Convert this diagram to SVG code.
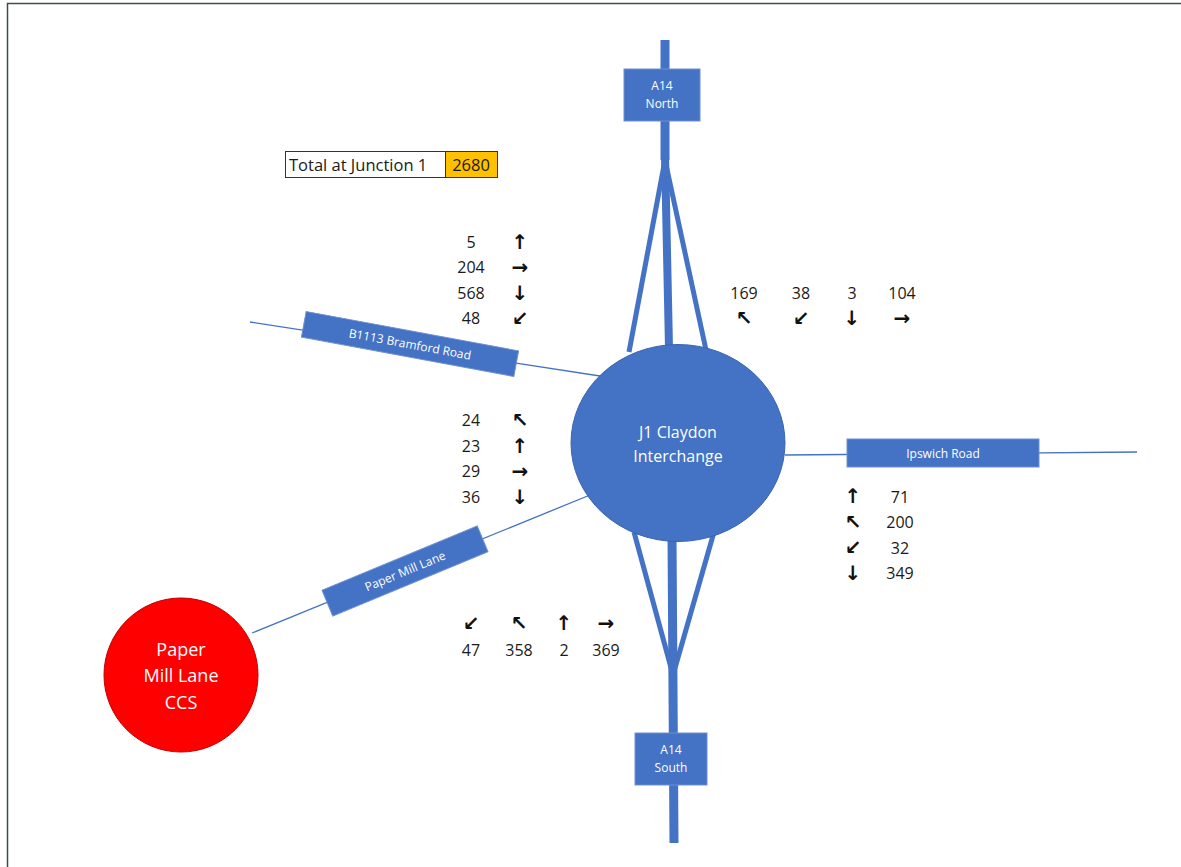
<svg xmlns="http://www.w3.org/2000/svg" width="1181" height="867" viewBox="0 0 1181 867">
<style>
.t{font-family:"Open Sans","Liberation Sans",sans-serif;font-size:16px;fill:#1a1a1a;text-anchor:middle}
.ts{font-family:"Open Sans","Liberation Sans",sans-serif;font-size:16.5px;fill:#1a1a1a}
.a{font-family:"DejaVu Sans",sans-serif;font-size:20px;fill:#111;text-anchor:middle;font-weight:bold}
.w{font-family:"Open Sans","Liberation Sans",sans-serif;fill:#fff;text-anchor:middle}
.box{fill:#4472C4;stroke:#6f8fd0;stroke-width:1}
.thick{stroke:#4472C4;fill:none;stroke-linecap:butt}
.thin{stroke:#4472C4;stroke-width:1.3;fill:none}
</style>
<rect width="1181" height="867" fill="#fff"/>
<path d="M7.5 867 V3.5 H1181" fill="none" stroke="#3c5042" stroke-width="1.5"/>
<g id="connectors">
<line class="thick" x1="665" y1="40" x2="665" y2="160" stroke-width="9"/>
<line class="thick" x1="665" y1="155" x2="669" y2="348" stroke-width="8"/>
<line class="thick" x1="665" y1="160" x2="629" y2="352" stroke-width="5"/>
<line class="thick" x1="665" y1="160" x2="706" y2="350" stroke-width="5"/>
<line class="thick" x1="672" y1="535" x2="674" y2="843" stroke-width="9"/>
<line class="thick" x1="634" y1="532" x2="673" y2="675" stroke-width="5"/>
<line class="thick" x1="714" y1="532" x2="673" y2="675" stroke-width="5"/>
<line class="thin" x1="785" y1="455" x2="1137" y2="452"/>
<line class="thin" x1="250" y1="322" x2="600" y2="376"/>
<line class="thin" x1="252" y1="633" x2="590" y2="495"/>
</g>
<g id="junction">
<ellipse cx="678" cy="443" rx="107" ry="98.5" fill="#4472C4" stroke="#3a64b0" stroke-width="1"/>
<text class="w" x="678" y="438" font-size="16">J1 Claydon</text>
<text class="w" x="678" y="462" font-size="16">Interchange</text>
</g>
<g id="a14-north">
<rect class="box" x="624" y="69" width="76" height="52"/>
<text class="w" x="662" y="90" font-size="12">A14</text>
<text class="w" x="662" y="108" font-size="12">North</text>
</g>
<g id="a14-south">
<rect class="box" x="635" y="733" width="72" height="52"/>
<text class="w" x="671" y="754" font-size="12">A14</text>
<text class="w" x="671" y="772" font-size="12">South</text>
</g>
<g id="ipswich-road">
<rect class="box" x="847" y="439" width="192" height="28"/>
<text class="w" x="943" y="458" font-size="12">Ipswich Road</text>
</g>
<g id="bramford-road" transform="translate(410 344) rotate(10.5)">
<rect class="box" x="-108" y="-13" width="216" height="26"/>
<text class="w" x="0" y="4.5" font-size="12">B1113 Bramford Road</text>
</g>
<g id="paper-mill-lane" transform="translate(405 571) rotate(-22.5)">
<rect class="box" x="-84" y="-14" width="168" height="28"/>
<text class="w" x="0" y="4.5" font-size="12">Paper Mill Lane</text>
</g>
<g id="paper-mill-ccs">
<circle cx="181" cy="675" r="77" fill="#FF0000" stroke="#c00000" stroke-width="1"/>
<text class="w" x="181" y="656" font-size="18">Paper</text>
<text class="w" x="181" y="682" font-size="18">Mill Lane</text>
<text class="w" x="181" y="709" font-size="18">CCS</text>
</g>
<g id="total">
<rect x="285.5" y="151.5" width="160" height="26" fill="#fff" stroke="#333" stroke-width="1"/>
<rect x="445.5" y="151.5" width="52" height="26" fill="#FFC000" stroke="#333" stroke-width="1"/>
<text class="ts" x="289" y="170.5">Total at Junction 1</text>
<text class="ts" x="471" y="170.5" style="text-anchor:middle">2680</text>
</g>
<g id="counts-bramford">
<text class="t" x="471" y="247.5">5</text>
<text class="t" x="471" y="273">204</text>
<text class="t" x="471" y="298.5">568</text>
<text class="t" x="471" y="324">48</text>
<text class="a" x="520" y="249">↑</text>
<text class="a" x="520" y="274">→</text>
<text class="a" x="520" y="300">↓</text>
<text class="a" x="520" y="325">↙</text>
</g>
<g id="counts-north">
<text class="t" x="744" y="298.5">169</text>
<text class="t" x="801" y="298.5">38</text>
<text class="t" x="852" y="298.5">3</text>
<text class="t" x="902" y="298.5">104</text>
<text class="a" x="744" y="325">↖</text>
<text class="a" x="801" y="325">↙</text>
<text class="a" x="852" y="325">↓</text>
<text class="a" x="902" y="325">→</text>
</g>
<g id="counts-papermill">
<text class="t" x="471" y="426">24</text>
<text class="t" x="471" y="451.5">23</text>
<text class="t" x="471" y="477">29</text>
<text class="t" x="471" y="502.5">36</text>
<text class="a" x="520" y="427">↖</text>
<text class="a" x="520" y="453">↑</text>
<text class="a" x="520" y="478">→</text>
<text class="a" x="520" y="504">↓</text>
</g>
<g id="counts-ipswich">
<text class="a" x="853" y="503">↑</text>
<text class="a" x="853" y="529">↖</text>
<text class="a" x="853" y="554">↙</text>
<text class="a" x="853" y="580">↓</text>
<text class="t" x="900" y="502.5">71</text>
<text class="t" x="900" y="528">200</text>
<text class="t" x="900" y="553.5">32</text>
<text class="t" x="900" y="579">349</text>
</g>
<g id="counts-south">
<text class="a" x="471" y="630">↙</text>
<text class="a" x="519" y="630">↖</text>
<text class="a" x="564" y="630">↑</text>
<text class="a" x="606" y="630">→</text>
<text class="t" x="471" y="655.5">47</text>
<text class="t" x="519" y="655.5">358</text>
<text class="t" x="564" y="655.5">2</text>
<text class="t" x="606" y="655.5">369</text>
</g>
</svg>
